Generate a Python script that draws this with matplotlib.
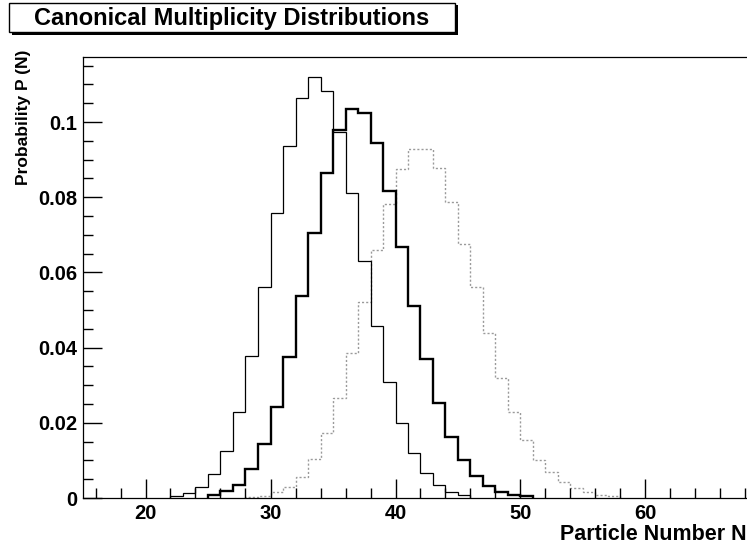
import numpy as np
import matplotlib.pyplot as plt
from matplotlib.patches import Rectangle
from matplotlib.ticker import MultipleLocator

plt.rcParams['font.family'] = ['Liberation Sans', 'DejaVu Sans']
plt.rcParams['font.weight'] = 'bold'

# P(N) per unit bin, first value belongs to bin [start, start+1)
a_start = 22
a_vals = [0.0005, 0.0013, 0.003, 0.0063, 0.0126, 0.023, 0.0378, 0.056, 0.0757, 0.0937,
          0.1065, 0.1119, 0.1083, 0.0974, 0.081, 0.063, 0.0457, 0.0309, 0.0199, 0.0119,
          0.0066, 0.0035, 0.0017, 0.0008]
b_start = 25
b_vals = [0.0008, 0.0018, 0.0035, 0.0077, 0.0143, 0.0243, 0.0376, 0.0537, 0.0706, 0.0864,
          0.098, 0.1036, 0.1023, 0.0945, 0.0817, 0.0667, 0.0511, 0.0371, 0.0254, 0.0163,
          0.0101, 0.0059, 0.0033, 0.0017, 0.0008, 0.0004]
c_start = 28
c_vals = [0.0002, 0.0006, 0.0015, 0.003, 0.0057, 0.0104, 0.0172, 0.0265, 0.0385, 0.0522,
          0.066, 0.0782, 0.0875, 0.0927, 0.0927, 0.0877, 0.0788, 0.0676, 0.056, 0.044,
          0.032, 0.0228, 0.0154, 0.0100, 0.0068, 0.0042, 0.0026, 0.0015, 0.0008, 0.0004]

fig = plt.figure(figsize=(7.47, 5.46), dpi=100)
ax = fig.add_axes([83 / 747, 1 - 498 / 546, 1 - 83 / 747, (498 - 57) / 546])

for start, vals, col, lw, ls in [(c_start, c_vals, '#9a9a9a', 1.0, (0, (1.5, 1.5))),
                                 (a_start, a_vals, 'black', 0.9, '-'),
                                 (b_start, b_vals, 'black', 1.7, '-')]:
    edges = np.arange(start, start + len(vals) + 1)
    ax.stairs(vals, edges, color=col, lw=lw, linestyle=ls)

ax.set_xlim(15, 15 + 664 / 12.5)
ax.set_ylim(0, 0.1173)

ax.xaxis.set_major_locator(MultipleLocator(10))
ax.xaxis.set_minor_locator(MultipleLocator(2))
ax.yaxis.set_major_locator(MultipleLocator(0.02))
ax.yaxis.set_minor_locator(MultipleLocator(0.005))
ax.yaxis.set_major_formatter(lambda v, p: '0' if v == 0 else f'{v:g}')
ax.tick_params(which='major', direction='in', length=14, width=1, labelsize=14.5, pad=4)
ax.tick_params(which='minor', direction='in', length=7, width=1)
ax.spines['right'].set_visible(False)
for s in ['left', 'bottom', 'top']:
    ax.spines[s].set_linewidth(0.9)

ax.set_xlabel('Particle Number N', loc='right', fontsize=15.5, fontweight='bold', labelpad=1)
ax.set_ylabel('Probability P (N)', loc='top', fontsize=12.5, fontweight='bold')
ax.yaxis.set_label_coords(-0.078, 1.016)

# title box with shadow
fig.patches.append(Rectangle((12 / 747, 1 - 35 / 546), 446 / 747, 30 / 546,
                             transform=fig.transFigure, facecolor='black', edgecolor='none'))
fig.patches.append(Rectangle((9 / 747, 1 - 32 / 546), 446 / 747, 29 / 546,
                             transform=fig.transFigure, facecolor='white', edgecolor='black', lw=1))
fig.text(232 / 747, 1 - 18 / 546, 'Canonical Multiplicity Distributions',
         ha='center', va='center', fontsize=17, fontweight='bold')

fig.savefig('out.png', dpi=100)
